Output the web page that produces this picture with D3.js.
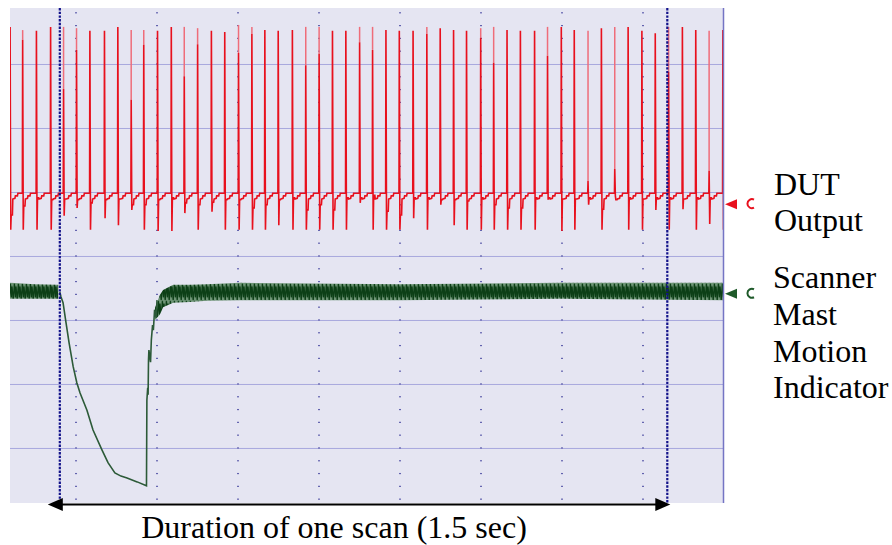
<!DOCTYPE html>
<html>
  <head>
    <meta charset='utf-8' />
    <title>Scan duration</title>
    <script src="https://d3js.org/d3.v7.min.js"></script>
    <style>
body {
  margin: 0;
  background: #fff;
}
text {
  font-family: "Liberation Serif", "Times New Roman", "Tinos", "Nimbus Roman", "DejaVu Serif", serif;
  font-size: 32px;
}
    </style>
  </head>
  <body>
    <div id="graphic"></div>
    <script>
      // time in seconds (0.2 s per division), amplitude in screen divisions
      const pulseT = [-0.162,-0.131,-0.097,-0.062,-0.030,0.002,0.035,0.071,0.104,0.137,0.168,0.202,0.236,0.268,0.301,0.335,0.368,0.402,0.435,0.467,0.500,0.535,0.568,0.601,0.634,0.667,0.701,0.733,0.766,0.799,0.833,0.867,0.900,0.933,0.965,1.000,1.032,1.065,1.098,1.133,1.165,1.199,1.231,1.265,1.298,1.331,1.364,1.398,1.431,1.464,1.498,1.531,1.564,1.598];
      const pulseTop = [7.58,7.53,7.52,7.58,7.58,7.56,7.52,7.52,7.58,7.53,7.53,7.52,7.58,7.58,7.56,7.52,7.50,7.61,7.58,7.53,7.52,7.53,7.58,7.58,7.52,7.52,7.58,7.58,7.53,7.52,7.52,7.58,7.56,7.53,7.52,7.56,7.58,7.53,7.52,7.52,7.58,7.58,7.53,7.52,7.56,7.58,7.58,7.52,7.48,7.58,7.58,7.53,7.52,7.53];
      const pulseKnee = [7.58,7.38,7.52,7.58,6.61,7.22,7.52,7.52,7.58,6.44,7.30,7.52,7.58,6.81,7.31,7.52,7.50,7.17,7.47,7.53,7.52,7.53,6.98,7.16,7.52,7.52,7.34,7.22,7.53,7.52,7.52,7.47,7.56,7.53,7.52,7.41,7.02,7.53,7.52,7.52,7.13,7.58,7.53,5.17,7.56,5.36,7.58,7.52,7.48,6.88,7.58,7.53,5.33,7.53];
      const pulseLow = [4.41,4.41,4.41,4.41,4.63,4.75,4.41,4.59,4.48,4.72,4.41,4.39,4.39,4.67,4.41,4.69,4.41,4.41,4.41,4.41,4.48,4.41,4.41,4.41,4.41,4.41,4.83,4.41,4.41,4.41,4.59,4.41,4.80,4.48,4.41,4.41,4.41,4.41,4.41,4.41,4.88,4.39,4.41,4.80,4.41,4.94,4.41,4.41,4.72,4.41,4.73,4.41,4.50,4.41];
      const pulseDip = [4.64,4.78,4.91,4.88,4.89,4.88,4.83,4.88,4.89,4.80,4.80,4.88,4.91,4.83,4.80,4.84,4.88,4.88,4.75,4.80,4.88,4.91,4.72,4.80,4.72,4.91,4.91,4.95,4.70,4.64,4.91,4.91,4.88,4.88,4.86,4.91,4.80,4.75,4.75,4.91,4.91,4.89,4.89,4.91,4.73,4.88,4.91,4.89,4.91,4.91,4.89,4.91,4.91,4.91];
      const redBase = 4.98;

      // mast motion: noisy band before and after the scan, single trace during it
      const bandLeftT = [-0.163, -0.101, -0.044];
      const bandLeftHi = [3.58, 3.56, 3.55];
      const bandLeftLo = [3.33, 3.33, 3.33];
      const bandRightT = [0.195, 0.207, 0.215, 0.240, 0.281, 0.323, 0.405, 0.800, 1.195, 1.600];
      const bandRightHi = [3.19, 3.39, 3.47, 3.55, 3.55, 3.56, 3.58, 3.56, 3.58, 3.58];
      const bandRightLo = [3.00, 3.08, 3.20, 3.27, 3.28, 3.30, 3.31, 3.31, 3.33, 3.31];
      const dropT = [-0.040,-0.037,-0.032,-0.025,-0.017,-0.007,0.002,0.010,0.027,0.042,0.064,0.079,0.096,0.111,0.126,0.151,0.174,0.175,0.177,0.178,0.179,0.180,0.184,0.186,0.189,0.191,0.194,0.198,0.200];
      const dropV = [3.44,3.36,3.27,2.97,2.64,2.27,2.02,1.86,1.59,1.28,0.97,0.77,0.61,0.56,0.53,0.47,0.41,1.75,1.94,1.83,2.38,2.53,2.34,2.69,2.92,2.84,3.16,3.03,3.31];

      const channelOffset = {dut: 4.81, mast: 3.41};
      const scanStart = -0.04;
      const scanEnd = 1.46;
      const caption = "Duration of one scan (1.5 sec)";
      const dutLabel = ["DUT", "Output"];
      const mastLabel = ["Scanner", "Mast", "Motion", "Indicator"];

      const width = 892;
      const height = 545;
      const plot = {left: 10, right: 724, top: 8, bottom: 503};

      const svg = d3.select("#graphic").append("svg")
        .attr("width", width)
        .attr("height", height);

      const x = d3.scaleLinear()
        .domain([-0.163, 1.6])
        .range([plot.left, plot.right]);

      const y = d3.scaleLinear()
        .domain([0.14, 7.875])
        .range([plot.bottom, plot.top]);

      // screen background
      svg.append("rect")
        .attr("x", plot.left)
        .attr("y", plot.top)
        .attr("width", plot.right - plot.left)
        .attr("height", plot.bottom - plot.top)
        .attr("fill", "#e5e5f2");

      svg.append("clipPath")
        .attr("id", "clip")
        .append("rect")
        .attr("x", plot.left)
        .attr("y", plot.top)
        .attr("width", plot.right - plot.left)
        .attr("height", plot.bottom - plot.top);

      const body = svg.append("g").attr("clip-path", "url(#clip)");

      // horizontal grid
      body.append("g")
        .selectAll("line")
        .data(y.ticks(8).filter(d => d > 0.2 && d < 7.8))
        .join("line")
        .attr("x1", plot.left)
        .attr("x2", plot.right)
        .attr("y1", d => y(d) + 0.5)
        .attr("y2", d => y(d) + 0.5)
        .attr("stroke", "#a8a8de")
        .attr("stroke-width", 1);

      // vertical dotted grid
      const xGrid = x.ticks(10).filter(d => d < 1.59);
      const yMinor = y.ticks(40).filter(d => y(d) > plot.top + 2 && y(d) < plot.bottom - 2);
      const dots = [];
      xGrid.forEach(t => yMinor.forEach(v => dots.push([t, v])));
      body.append("g")
        .selectAll("rect")
        .data(dots)
        .join("rect")
        .attr("x", d => x(d[0]) - 1)
        .attr("y", d => y(d[1]) - 0.6)
        .attr("width", 2)
        .attr("height", 1.2)
        .attr("fill", "#6262ae");

      // mast motion trace
      const bandH = y(3.31) - y(3.58);
      const pat = svg.append("defs").append("pattern")
        .attr("id", "noise")
        .attr("patternUnits", "userSpaceOnUse")
        .attr("x", 0)
        .attr("y", y(3.58))
        .attr("width", 4)
        .attr("height", bandH);
      pat.append("rect")
        .attr("width", 4)
        .attr("height", bandH)
        .attr("fill", "#6f9677");
      pat.append("path")
        .attr("d", `M0,${bandH * 0.2} L1.2,${bandH} L2.4,${bandH * 0.05} L3.4,${bandH * 0.85} L4,${bandH * 0.2}`)
        .attr("fill", "none")
        .attr("stroke", "#0c3f16")
        .attr("stroke-width", 1.3);

      const band = d3.area()
        .x(d => x(d.t))
        .y0(d => y(d.lo))
        .y1(d => y(d.hi));

      [[bandLeftT, bandLeftHi, bandLeftLo], [bandRightT, bandRightHi, bandRightLo]].forEach(([ts, hs, ls]) => {
        body.append("path")
          .datum(ts.map((t, i) => ({t: t, hi: hs[i], lo: ls[i]})))
          .attr("d", band)
          .attr("fill", "url(#noise)");
      });

      body.append("path")
        .datum(dropT.map((t, i) => [t, dropV[i]]))
        .attr("d", d3.line().x(d => x(d[0])).y(d => y(d[1])))
        .attr("fill", "none")
        .attr("stroke", "#2c5a38")
        .attr("stroke-width", 1.6);

      // DUT output trace
      const redPts = [[plot.left, y(redBase)]];
      pulseT.forEach((t, i) => {
        const px = x(t);
        redPts.push(
          [px - 0.6, y(redBase)],
          [px - 0.3, y(pulseKnee[i])],
          [px + 0.3, y(pulseLow[i])],
          [px + 0.8, y(pulseDip[i])],
          [px + 2, y(pulseDip[i])],
          [px + 2.4, y(redBase - 0.09)],
          [px + 4.5, y(redBase - 0.08)],
          [px + 5, y(redBase - 0.04)],
          [px + 7, y(redBase - 0.04)],
          [px + 7.5, y(redBase)]
        );
      });
      redPts.push([plot.right, y(redBase)]);

      body.append("g")
        .selectAll("line")
        .data(pulseT.map((t, i) => i).filter(i => pulseTop[i] > pulseKnee[i]))
        .join("line")
        .attr("x1", i => x(pulseT[i]) - 0.3)
        .attr("x2", i => x(pulseT[i]) - 0.3)
        .attr("y1", i => y(pulseTop[i]))
        .attr("y2", i => y(pulseKnee[i]))
        .attr("stroke", "#ef6d7a")
        .attr("stroke-width", 1.5);

      body.append("path")
        .datum(redPts)
        .attr("d", d3.line())
        .attr("fill", "none")
        .attr("stroke", "#e8101d")
        .attr("stroke-width", 1.6);

      // scan start / end cursors
      body.append("g")
        .selectAll("line")
        .data([scanStart, scanEnd])
        .join("line")
        .attr("x1", d => x(d))
        .attr("x2", d => x(d))
        .attr("y1", plot.top)
        .attr("y2", plot.bottom)
        .attr("stroke", "#12128a")
        .attr("stroke-width", 2.2)
        .attr("stroke-dasharray", "2.4,1.3");

      // right border of the screen
      svg.append("line")
        .attr("x1", plot.right - 0.5)
        .attr("x2", plot.right - 0.5)
        .attr("y1", plot.top)
        .attr("y2", plot.bottom)
        .attr("stroke", "#7474c4")
        .attr("stroke-width", 1.5);

      // channel markers
      const markers = [
        {v: channelOffset.dut, color: "#e8101d"},
        {v: channelOffset.mast, color: "#1f5a2a"}
      ];
      markers.forEach(m => {
        const cy = y(m.v);
        svg.append("path")
          .attr("d", `M${plot.right + 1},${cy} L${plot.right + 13},${cy - 5} L${plot.right + 13},${cy + 5} Z`)
          .attr("fill", m.color);
        svg.append("path")
          .attr("d", `M${plot.right + 30},${cy - 4.5} A4.5,4.5 0 1 0 ${plot.right + 30},${cy + 3.5}`)
          .attr("fill", "none")
          .attr("stroke", m.color)
          .attr("stroke-width", 2);
      });

      // duration arrow
      const ay = 504.5;
      const ax1 = x(scanStart) - 12;
      const ax2 = x(scanEnd) + 3;
      svg.append("line")
        .attr("x1", ax1 + 10)
        .attr("x2", ax2 - 10)
        .attr("y1", ay)
        .attr("y2", ay)
        .attr("stroke", "#000")
        .attr("stroke-width", 2);
      svg.append("path")
        .attr("d", `M${ax1},${ay} L${ax1 + 15},${ay - 6.5} L${ax1 + 15},${ay + 6.5} Z`)
        .attr("fill", "#000");
      svg.append("path")
        .attr("d", `M${ax2},${ay} L${ax2 - 15},${ay - 6.5} L${ax2 - 15},${ay + 6.5} Z`)
        .attr("fill", "#000");

      svg.append("text")
        .attr("x", 334)
        .attr("y", 538)
        .attr("text-anchor", "middle")
        .text(caption);

      // channel names
      svg.append("g")
        .selectAll("text")
        .data(dutLabel)
        .join("text")
        .attr("x", 774)
        .attr("y", (d, i) => 195 + i * 36)
        .text(d => d);

      svg.append("g")
        .selectAll("text")
        .data(mastLabel)
        .join("text")
        .attr("x", 773)
        .attr("y", (d, i) => 288 + i * 36.8)
        .text(d => d);
    </script>
  </body>
</html>
